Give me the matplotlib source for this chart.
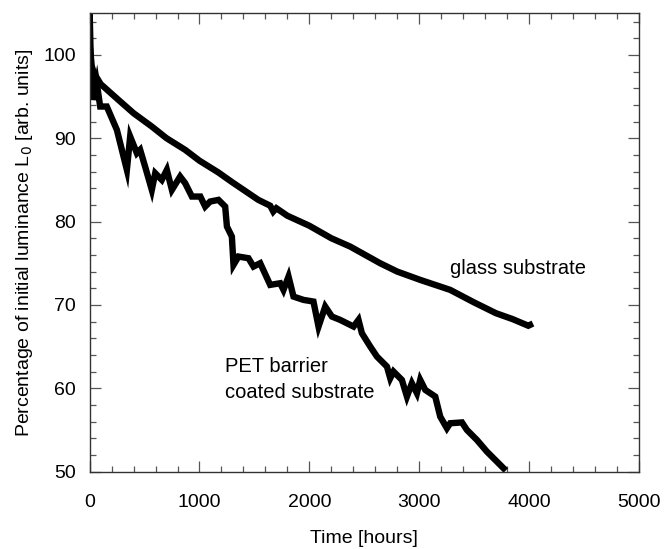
import numpy as np
import matplotlib
matplotlib.use('Agg')
import matplotlib.pyplot as plt
from matplotlib.ticker import MultipleLocator

plt.rcParams['font.family'] = ['Liberation Sans', 'DejaVu Sans']

# glass substrate
t_glass = [0, 5, 15, 40, 100, 262, 400, 566, 700, 870, 1000, 1171, 1300, 1536,
           1644, 1672, 1700, 1800, 2000, 2200, 2372, 2645, 2800, 3010, 3283,
           3500, 3700, 3850, 3994, 4010]
v_glass = [105.5, 101.0, 98.8, 97.8, 96.5, 94.6, 93.0, 91.4, 90.0, 88.6, 87.3,
           85.9, 84.7, 82.6, 81.9, 81.2, 81.6, 80.7, 79.5, 78.0, 77.0, 75.0,
           74.0, 73.0, 71.8, 70.3, 69.0, 68.3, 67.5, 67.6]

# PET barrier coated substrate
t_pet = [0, 5, 20, 35, 65, 96, 156, 248, 339, 369, 430, 460, 505, 566, 597,
         657, 703, 749, 824, 870, 931, 1008, 1052, 1097, 1173, 1234, 1250,
         1295, 1310, 1355, 1446, 1492, 1553, 1644, 1735, 1765, 1811, 1856,
         1947, 2038, 2084, 2145, 2206, 2281, 2403, 2448, 2479, 2555, 2616,
         2707, 2737, 2767, 2843, 2889, 2934, 2980, 3010, 3056, 3147, 3192,
         3253, 3283, 3390, 3435, 3526, 3617, 3693, 3769]
v_pet = [105.5, 101.0, 97.8, 94.6, 96.6, 93.8, 93.8, 91.0, 86.2, 90.2, 88.2,
         88.6, 86.6, 83.8, 85.8, 85.0, 86.2, 83.8, 85.4, 84.6, 83.0, 83.0,
         81.8, 82.4, 82.6, 81.8, 79.4, 78.2, 74.8, 75.8, 75.6, 74.6, 75.0,
         72.4, 72.6, 71.8, 73.4, 71.0, 70.6, 70.4, 67.4, 69.8, 68.6, 68.2,
         67.4, 68.2, 66.6, 65.0, 63.8, 62.6, 61.2, 62.0, 61.0, 59.0, 60.6,
         59.4, 61.0, 59.8, 59.0, 56.6, 55.2, 55.8, 55.9, 55.0, 53.8, 52.4,
         51.4, 50.4]

fig = plt.figure(figsize=(6.64, 5.49), dpi=100)
ax = fig.add_axes([0.135, 0.141, 0.827, 0.835])

ax.plot(t_glass, v_glass, color='black', lw=4.6, solid_joinstyle='miter')
ax.plot(t_pet, v_pet, color='black', lw=4.6, solid_joinstyle='miter')

ax.set_xlim(0, 5000)
ax.set_ylim(50, 105)
ax.xaxis.set_major_locator(MultipleLocator(1000))
ax.xaxis.set_minor_locator(MultipleLocator(200))
ax.yaxis.set_major_locator(MultipleLocator(10))
ax.yaxis.set_minor_locator(MultipleLocator(2))
ax.tick_params(which='both', direction='in', top=True, right=True,
               color='#555555', width=0.9)
ax.tick_params(which='major', length=8, labelsize=14, pad=10)
ax.tick_params(which='minor', length=4)
ax.tick_params(axis='x', which='major', pad=16)
for s in ax.spines.values():
    s.set_color('#333333')
    s.set_linewidth(1.0)

ax.set_xlabel('Time [hours]', fontsize=14, labelpad=14)
ax.set_ylabel('Percentage of initial luminance L$_0$ [arb. units]', fontsize=14,
              labelpad=6)

ax.text(3283, 74.4, 'glass substrate', fontsize=14.5, va='center')
ax.text(1234, 62.6, 'PET barrier', fontsize=14.5, va='center')
ax.text(1234, 59.5, 'coated substrate', fontsize=14.5, va='center')

fig.savefig('out.png', dpi=100)
